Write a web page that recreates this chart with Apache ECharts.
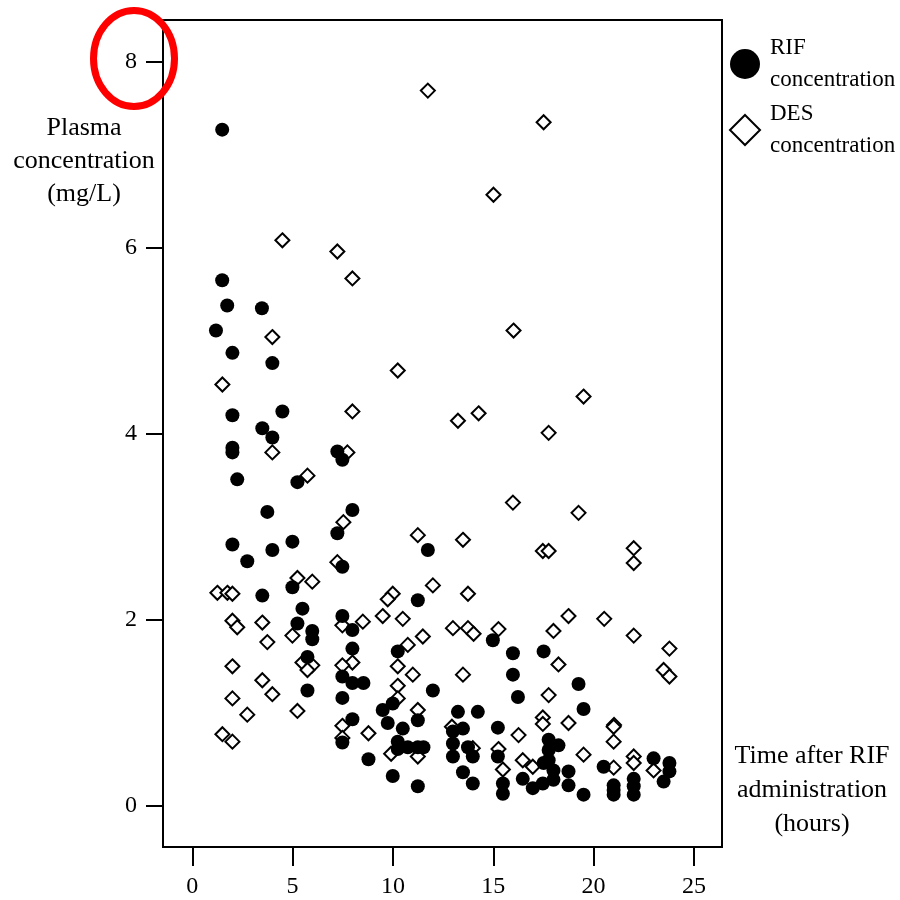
<!DOCTYPE html>
<html>
<head>
<meta charset="utf-8">
<script src="https://cdn.jsdelivr.net/npm/echarts@6/dist/echarts.min.js"></script>
<style>html,body{margin:0;padding:0;background:#fff}#c{width:900px;height:900px}</style>
</head>
<body>
<div id="c"></div>
<script>
// ---- data (hours, mg/L) ----
var rifX = [1.49,1.49,1.74,3.47,1.18,2.0,3.99,2.0,4.49,3.49,3.99,2.0,2.0,2.24,5.24,7.23,7.48,3.74,7.98,7.23,2.0,4.99,3.99,2.74,7.48,4.99,3.49,5.49,5.24,5.98,5.98,7.48,7.98,7.98,5.74,7.48,7.98,5.74,7.48,7.98,7.48,11.74,11.24,10.24,14.98,15.98,15.98,16.23,11.99,8.53,8.78,9.49,9.99,9.74,10.49,11.24,10.24,10.24,10.74,11.24,11.52,9.99,11.24,13.24,14.23,13.49,12.99,12.99,13.74,13.98,12.99,13.49,13.98,15.23,15.23,15.48,15.48,16.47,16.97,17.51,19.25,19.5,17.76,18.25,17.76,17.76,17.51,18.0,18.75,18.75,17.47,18.0,19.5,20.5,21.0,21.0,21.0,22.0,22.0,22.0,22.99,23.78,23.78,23.49];
var rifY = [7.27,5.65,5.38,5.35,5.11,4.87,4.76,4.20,4.24,4.06,3.96,3.85,3.80,3.51,3.48,3.81,3.72,3.16,3.18,2.93,2.81,2.84,2.75,2.63,2.57,2.35,2.26,2.12,1.96,1.88,1.79,2.04,1.89,1.69,1.60,1.39,1.32,1.24,1.16,0.93,0.68,2.75,2.21,1.66,1.78,1.64,1.41,1.17,1.24,1.32,0.50,1.03,1.10,0.89,0.83,0.92,0.69,0.61,0.63,0.63,0.63,0.32,0.21,1.01,1.01,0.83,0.80,0.67,0.63,0.53,0.53,0.36,0.24,0.84,0.53,0.24,0.13,0.29,0.19,1.66,1.31,1.04,0.71,0.65,0.60,0.49,0.46,0.38,0.37,0.22,0.24,0.28,0.12,0.42,0.22,0.17,0.12,0.29,0.21,0.12,0.51,0.46,0.37,0.26];
var desX = [11.74,17.51,15.01,4.49,7.23,7.98,16.01,3.99,10.24,1.50,19.5,7.98,14.27,13.24,17.76,3.99,7.73,5.74,15.98,19.25,7.53,11.24,13.49,22.0,17.47,17.76,7.23,22.0,5.24,5.98,11.99,1.25,1.75,2.0,13.74,9.99,9.74,18.75,9.49,20.53,10.49,2.0,8.5,3.49,7.48,2.24,12.99,13.74,15.26,18.0,14.02,4.99,22.0,11.49,3.74,10.74,23.78,5.49,7.98,18.25,5.98,7.48,2.0,10.24,5.74,23.49,10.99,13.49,23.78,3.49,10.24,3.99,17.76,2.0,10.24,11.24,5.24,2.74,17.47,18.75,17.47,21.02,21.0,7.48,12.94,8.78,1.50,16.26,7.48,2.0,21.0,13.98,15.26,9.91,19.5,11.24,22.0,16.47,22.0,16.97,21.0,15.48,22.99];
var desY = [7.69,7.35,6.57,6.08,5.96,5.67,5.11,5.04,4.68,4.53,4.40,4.24,4.22,4.14,4.01,3.80,3.80,3.55,3.26,3.15,3.05,2.91,2.86,2.77,2.74,2.74,2.62,2.61,2.45,2.41,2.37,2.29,2.29,2.28,2.28,2.28,2.22,2.04,2.04,2.01,2.01,1.99,1.98,1.97,1.94,1.92,1.91,1.91,1.90,1.88,1.85,1.83,1.83,1.82,1.76,1.73,1.69,1.54,1.54,1.52,1.51,1.51,1.50,1.50,1.46,1.46,1.41,1.41,1.39,1.35,1.29,1.20,1.19,1.155,1.155,1.03,1.02,0.98,0.95,0.89,0.88,0.87,0.85,0.86,0.85,0.78,0.77,0.76,0.73,0.69,0.69,0.62,0.61,0.56,0.55,0.53,0.53,0.49,0.46,0.42,0.41,0.39,0.38];
var xTicks = [0, 5, 10, 15, 20, 25];
var yTicks = [0, 2, 4, 6, 8];
var rifName = 'RIF\nconcentration';
var desName = 'DES\nconcentration';
var yTitle = 'Plasma\nconcentration\n(mg/L)';
var xTitle = 'Time after RIF\nadministration\n(hours)';

function pairs(xs, ys) { return xs.map(function (x, i) { return [x, ys[i]]; }); }

var FONT = 'Liberation Serif';
var chart = echarts.init(document.getElementById('c'), null, { renderer: 'canvas' });
chart.setOption({
  animation: false,
  backgroundColor: '#fff',
  grid: { left: 163, right: 178, top: 20, bottom: 53, show: true, borderColor: '#000', borderWidth: 2, backgroundColor: 'transparent' },
  legend: {
    orient: 'vertical', left: 724, top: 27, itemGap: 2, itemWidth: 30, itemHeight: 30,
    data: [rifName, desName],
    textStyle: { fontFamily: FONT, fontSize: 23, lineHeight: 32, color: '#000', padding: [0, 0, 0, 5] },
    selectedMode: false
  },
  xAxis: {
    type: 'value', min: -1.46, max: 26.4,
    axisLine: { show: false, onZero: false },
    splitLine: { show: false },
    axisTick: { show: true, inside: false, length: 19, customValues: xTicks, lineStyle: { color: '#000', width: 2 } },
    axisLabel: { customValues: xTicks, margin: 28, fontFamily: FONT, fontSize: 24, color: '#000' }
  },
  yAxis: {
    type: 'value', min: -0.443, max: 8.449,
    axisLine: { show: false, onZero: false },
    splitLine: { show: false },
    axisTick: { show: true, inside: false, length: 17, customValues: yTicks, lineStyle: { color: '#000', width: 2 } },
    axisLabel: { customValues: yTicks, margin: 26, fontFamily: FONT, fontSize: 24, color: '#000' }
  },
  series: [
    { name: desName, type: 'scatter', data: pairs(desX, desY), symbol: 'diamond', symbolSize: [14, 14],
      itemStyle: { color: '#fff', borderColor: '#000', borderWidth: 2, opacity: 1 }, z: 2 },
    { name: rifName, type: 'scatter', data: pairs(rifX, rifY), symbol: 'circle', symbolSize: 14,
      itemStyle: { color: '#000', opacity: 1 }, z: 3 }
  ],
  graphic: [
    { type: 'text', x: 84, y: 161, style: { text: yTitle, font: '26px "' + FONT + '"', fill: '#000', align: 'center', verticalAlign: 'middle', lineHeight: 33 } },
    { type: 'text', x: 812, y: 790, style: { text: xTitle, font: '26px "' + FONT + '"', fill: '#000', align: 'center', verticalAlign: 'middle', lineHeight: 34 } },
    { type: 'ellipse', shape: { cx: 134, cy: 58.5, rx: 40.5, ry: 48 }, style: { fill: 'none', stroke: '#ff0000', lineWidth: 7 }, z: 100 }
  ]
});
</script>
</body>
</html>
